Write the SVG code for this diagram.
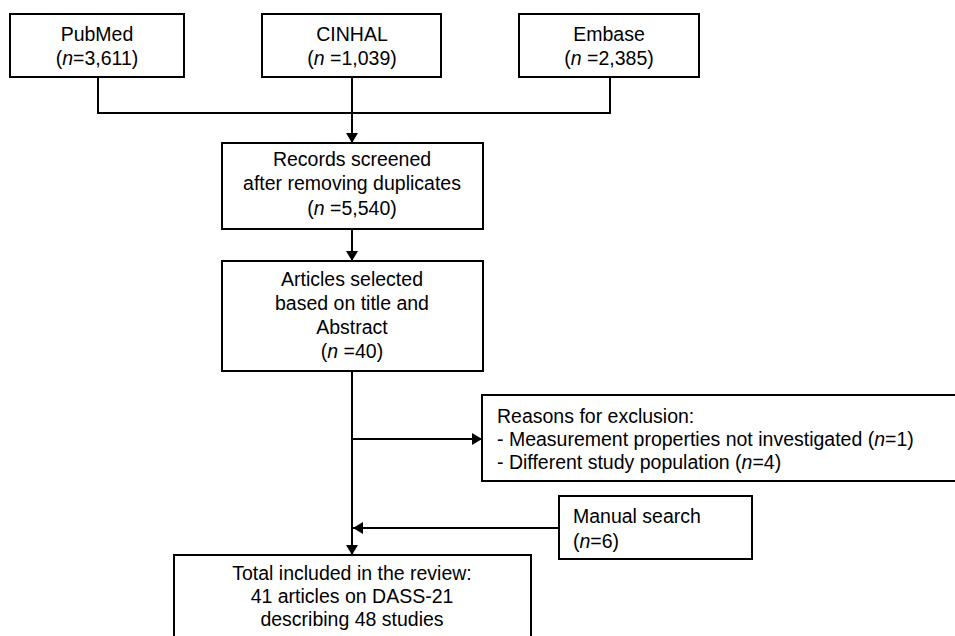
<svg xmlns="http://www.w3.org/2000/svg" width="955" height="636" viewBox="0 0 955 636">
<style>
.box{fill:#fff;stroke:#000;stroke-width:2}
.ln{fill:none;stroke:#000;stroke-width:2}
text{font-family:"Liberation Sans",Arial,sans-serif;font-size:19.5px;fill:#000}
.c{text-anchor:middle}
</style>
<defs>
<marker id="ah" viewBox="0 0 10 12" refX="10" refY="6" markerWidth="10" markerHeight="12" markerUnits="userSpaceOnUse" orient="auto">
<path d="M0,0 L10,6 L0,12 Z" fill="#000"/>
</marker>
</defs>
<rect width="955" height="636" fill="#fff"/>
<g id="connectors">
<polyline class="ln" points="98,77 98,113 610,113 610,77"/>
<line class="ln" x1="352" y1="77" x2="352" y2="143" marker-end="url(#ah)"/>
<line class="ln" x1="352" y1="229" x2="352" y2="261" marker-end="url(#ah)"/>
<line class="ln" x1="352" y1="371" x2="352" y2="555" marker-end="url(#ah)"/>
<line class="ln" x1="352" y1="439" x2="482" y2="439" marker-end="url(#ah)"/>
<line class="ln" x1="559" y1="528" x2="353" y2="528" marker-end="url(#ah)"/>
</g>
<g id="pubmed">
<rect class="box" x="10" y="14" width="174" height="63"/>
<text class="c" x="97" y="41">PubMed</text>
<text class="c" x="97" y="65">(<tspan font-style="italic">n</tspan>=3,611)</text>
</g>
<g id="cinhal">
<rect class="box" x="262" y="14" width="179" height="63"/>
<text class="c" x="352" y="41">CINHAL</text>
<text class="c" x="352" y="65">(<tspan font-style="italic">n</tspan> =1,039)</text>
</g>
<g id="embase">
<rect class="box" x="519" y="14" width="180" height="63"/>
<text class="c" x="609" y="41">Embase</text>
<text class="c" x="609" y="65">(<tspan font-style="italic">n</tspan> =2,385)</text>
</g>
<g id="records">
<rect class="box" x="222" y="143" width="261" height="86"/>
<text class="c" x="352" y="166">Records screened</text>
<text class="c" x="352" y="190">after removing duplicates</text>
<text class="c" x="352" y="215">(<tspan font-style="italic">n</tspan> =5,540)</text>
</g>
<g id="articles">
<rect class="box" x="222" y="261" width="261" height="110"/>
<text class="c" x="352" y="286">Articles selected</text>
<text class="c" x="352" y="310">based on title and</text>
<text class="c" x="352" y="334">Abstract</text>
<text class="c" x="352" y="358">(<tspan font-style="italic">n</tspan> =40)</text>
</g>
<g id="exclusion">
<rect class="box" x="482" y="395" width="490" height="86"/>
<text x="497" y="423">Reasons for exclusion:</text>
<text x="497" y="446">- Measurement properties not investigated (<tspan font-style="italic">n</tspan>=1)</text>
<text x="497" y="469">- Different study population (<tspan font-style="italic">n</tspan>=4)</text>
</g>
<g id="manual">
<rect class="box" x="559" y="496" width="193" height="63"/>
<text x="573" y="523">Manual search</text>
<text x="573" y="548">(<tspan font-style="italic">n</tspan>=6)</text>
</g>
<g id="total">
<rect class="box" x="174" y="555" width="357" height="100"/>
<text class="c" x="352" y="580">Total included in the review:</text>
<text class="c" x="352" y="603">41 articles on DASS-21</text>
<text class="c" x="352" y="626">describing 48 studies</text>
</g>
</svg>
